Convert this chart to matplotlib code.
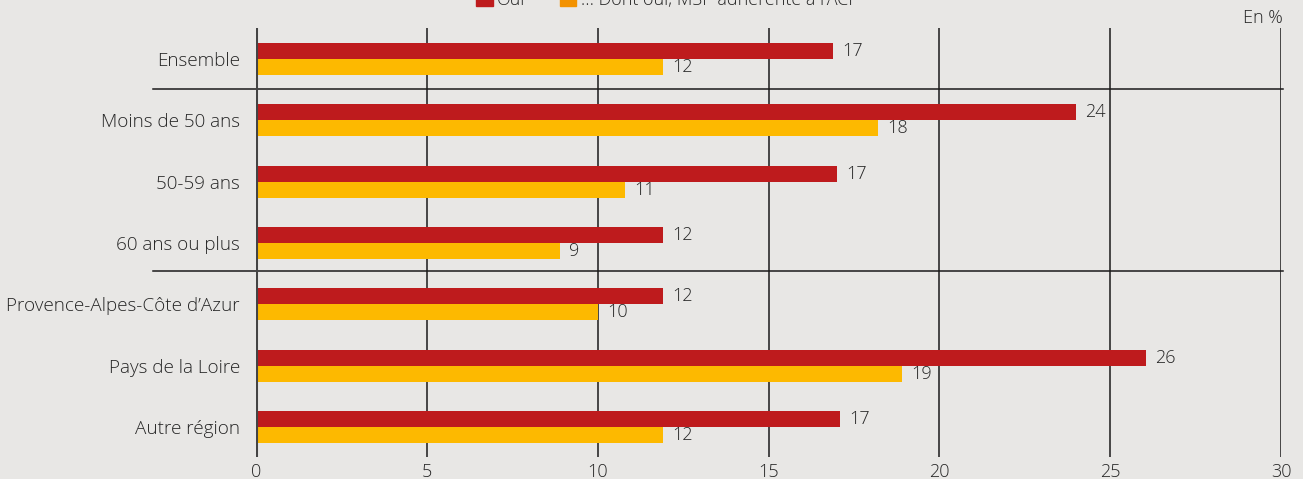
import numpy as np
import matplotlib.pyplot as plt
from matplotlib.patches import Patch

plt.rcParams['font.family'] = ['Open Sans', 'DejaVu Sans']
plt.rcParams['font.weight'] = 'light'

# Données
categories = ["Ensemble", "Moins de 50 ans", "50-59 ans", "60 ans ou plus",
              "Provence-Alpes-Côte d\u2019Azur", "Pays de la Loire", "Autre région"]
oui = [16.9, 24.0, 17.0, 11.9, 11.9, 26.05, 17.1]
oui_aci = [11.9, 18.2, 10.8, 8.9, 10.0, 18.9, 11.9]
lab_oui = [17, 24, 17, 12, 12, 26, 17]
lab_aci = [12, 18, 11, 9, 10, 19, 12]
series_names = ["Oui", "\u2026 Dont oui, MSP adhérente à l\u2019ACI"]

fond = "#E8E7E5"
rouge = "#BE1B1D"
jaune = "#FDB900"
orange = "#F39200"
texte = "#262626"
fs = 13

fig = plt.figure(figsize=(13.03, 4.79), dpi=100, facecolor=fond)
ax = fig.add_axes([256/1303, 1 - 457/479, 1025/1303, 429/479], facecolor=fond)

y = np.arange(len(categories))
h = 0.26
ax.barh(y - h/2, oui, height=h, color=rouge, zorder=3)
ax.barh(y + h/2, oui_aci, height=h, color=jaune, zorder=3)

for yi, v, l in zip(y, oui, lab_oui):
    ax.text(v + 0.27, yi - h/2, str(l), va="center", ha="left",
            fontsize=fs, color=texte)
for yi, v, l in zip(y, oui_aci, lab_aci):
    ax.text(v + 0.27, yi + h/2, str(l), va="center", ha="left",
            fontsize=fs, color=texte)

ax.set_xlim(0, 30)
ax.set_ylim(6.49, -0.505)
ax.set_xticks(np.arange(0, 31, 5))
ax.set_yticks(y)
ax.set_yticklabels(categories, fontsize=13.6)
ax.tick_params(axis="both", length=0, colors=texte)
ax.tick_params(axis="x", labelsize=fs, pad=4)
ax.tick_params(axis="y", pad=11.5)
for s in ax.spines.values():
    s.set_visible(False)

for xv in np.arange(5, 31, 5):
    ax.axvline(xv, color="#1a1a1a", lw=1.1, zorder=2)
ax.axvline(0, color="#444444", lw=2.2, zorder=4)

# séparateurs de groupes
for ys in [0.49, 3.46]:
    ax.axhline(ys, xmin=-0.1005, xmax=1.002, color="#1a1a1a", lw=1.1,
               clip_on=False, zorder=2)

fig.text(1283/1303, 1 - 18/479, "En %", ha="right", va="center",
         fontsize=fs, color=texte)

handles = [Patch(color=rouge), Patch(color=orange)]
fig.legend(handles, series_names, loc="center", bbox_to_anchor=(0.51, 1.0),
           ncol=2, frameon=False, fontsize=fs, handlelength=0.9,
           handleheight=0.9, handletextpad=0.25, columnspacing=1.9,
           labelcolor=texte)

fig.savefig("out.png", dpi=100, facecolor=fond)
